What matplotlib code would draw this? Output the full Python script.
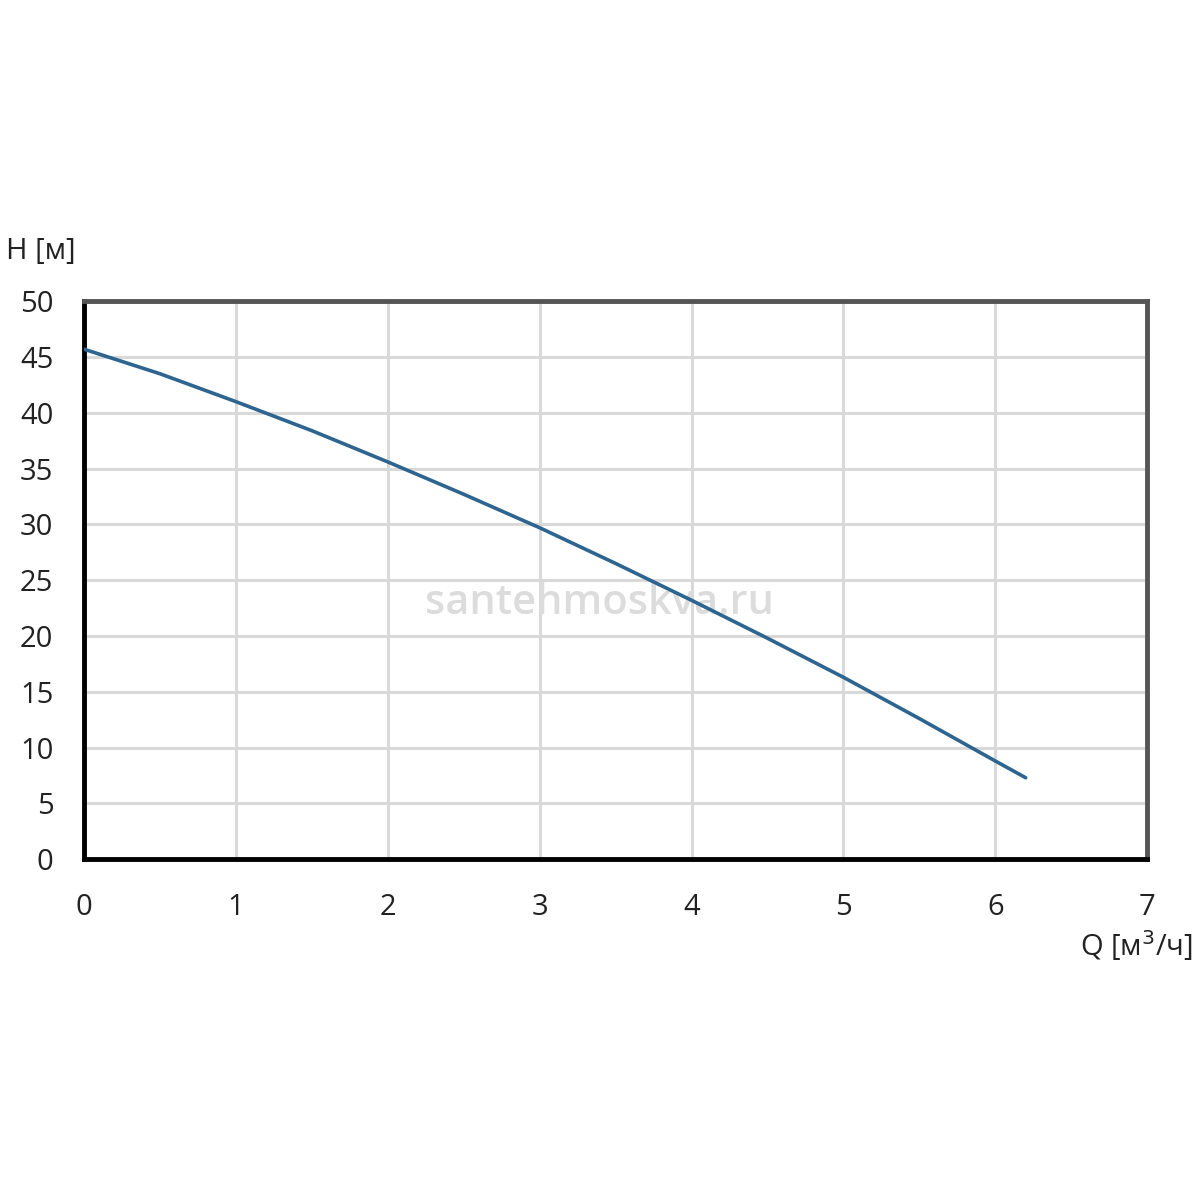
import matplotlib
matplotlib.use('Agg')
import matplotlib.pyplot as plt

# pump curve data
flow = [0.0, 0.5, 1.0, 1.5, 2.0, 2.5, 3.0, 3.5, 4.0, 4.5, 5.0, 5.5, 6.0, 6.2]
head = [45.7, 43.5, 41.0, 38.4, 35.6, 32.7, 29.7, 26.5, 23.2, 19.8, 16.3, 12.6, 8.8, 7.3]

x_ticks = [0, 1, 2, 3, 4, 5, 6, 7]
y_ticks = [0, 5, 10, 15, 20, 25, 30, 35, 40, 45, 50]

plt.rcParams['font.family'] = ['Open Sans', 'DejaVu Sans']

fig = plt.figure(figsize=(12, 12), dpi=100)
# plot box: x 84..1147 px, y 301..859 px
ax = fig.add_axes([0.070, 0.284, 0.886, 0.465])

ax.plot(flow, head, color='#2e6590', lw=2.6, solid_capstyle='round', zorder=3)

ax.set_xlim(0, 7)
ax.set_ylim(0, 50)
ax.set_xticks(x_ticks)
ax.set_yticks(y_ticks)
ax.grid(True, color='#d9d9d9', lw=2.2)
ax.set_axisbelow(True)
ax.tick_params(length=0, labelsize=21, colors='#222222')
ax.tick_params(axis='x', pad=24)
ax.tick_params(axis='y', pad=22)

# frame: left/bottom black, top/right dark grey
ax.spines['left'].set_color('#000000')
ax.spines['bottom'].set_color('#000000')
ax.spines['top'].set_color('#555555')
ax.spines['right'].set_color('#555555')
for s in ax.spines.values():
    s.set_linewidth(3.5)

fig.text(0.005, 0.790, 'H [м]', fontsize=21, color='#222222', ha='left', va='center')
fig.text(0.994, 0.212, 'Q [м$^3$/ч]', fontsize=21, color='#222222', ha='right', va='center')

# watermark
ax.text(0.485, 0.46, 'santehmoskva.ru', transform=ax.transAxes, fontsize=30,
        fontweight='semibold', color='#dcdcdc', ha='center',
        va='center', zorder=2)

fig.savefig('out.png', dpi=100, facecolor='white')
